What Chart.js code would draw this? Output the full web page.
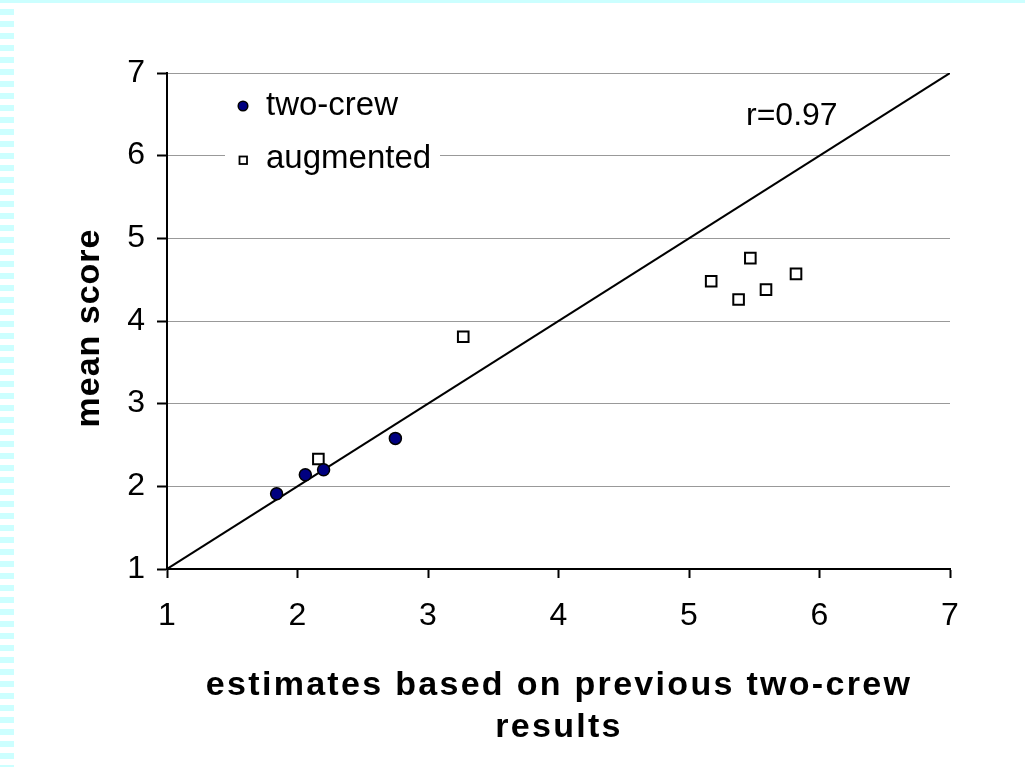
<!DOCTYPE html>
<html>
<head>
<meta charset="utf-8">
<title>mean score vs estimates</title>
<script src="https://cdn.jsdelivr.net/npm/chart.js@4/dist/chart.umd.min.js"></script>
<style>
  html, body { margin: 0; padding: 0; background: #ffffff; }
  #wrap { position: relative; width: 1025px; height: 767px; overflow: hidden; }
  #chart { position: absolute; left: 0; top: 0; }
  #topband { position: absolute; left: 0; top: 0; width: 1025px; height: 3px; background: #ccffff; }
  #sideband { position: absolute; left: 0; top: 3px; width: 14px; height: 764px;
    background: repeating-linear-gradient(to bottom, transparent 0px, transparent 6px, #ccffff 6px, #ccffff 12px); }
</style>
</head>
<body>
<div id="wrap">
  <canvas id="chart" width="1025" height="767"></canvas>
  <div id="topband"></div>
  <div id="sideband"></div>
</div>
<script>
// two-crew flights: estimate vs observed mean score
const twoCrewX = [1.84, 2.06, 2.20, 2.75];
const twoCrewY = [1.91, 2.14, 2.20, 2.58];
// augmented-crew flights
const augmentedX = [2.16, 3.27, 5.17, 5.38, 5.47, 5.59, 5.82];
const augmentedY = [2.33, 3.81, 4.48, 4.26, 4.76, 4.38, 4.57];
// identity reference line
const identityX = [1, 7];
const identityY = [1, 7];
// axis range and ticks
const axisMin = 1;
const axisMax = 7;
const tickStep = 1;
const correlationLabel = 'r=0.97';
const xTitleLines = ['estimates based on previous two-crew', 'results'];
const yTitle = 'mean score';
const seriesNames = ['two-crew', 'augmented'];

const FONT = "'Liberation Sans', Arial, sans-serif";

function toPoints(xs, ys) { return xs.map((x, i) => ({ x: x, y: ys[i] })); }

const overlay = {
  id: 'overlay',
  afterDraw(chart) {
    const ctx = chart.ctx;
    ctx.save();
    // legend box with white background
    ctx.fillStyle = '#ffffff';
    ctx.fillRect(225, 82, 215, 100);
    const ds0 = chart.data.datasets[0];
    const ds1 = chart.data.datasets[1];
    // circle marker
    ctx.beginPath();
    ctx.arc(243, 106, 4.8, 0, Math.PI * 2);
    ctx.fillStyle = ds0.backgroundColor;
    ctx.fill();
    ctx.lineWidth = 1.5;
    ctx.strokeStyle = ds0.borderColor;
    ctx.stroke();
    // square marker
    ctx.fillStyle = ds1.backgroundColor;
    ctx.fillRect(239.5, 156.5, 7.5, 7.5);
    ctx.lineWidth = 1.8;
    ctx.strokeStyle = ds1.borderColor;
    ctx.strokeRect(239.5, 156.5, 7.5, 7.5);
    // legend labels
    ctx.fillStyle = '#000000';
    ctx.font = '33px ' + FONT;
    ctx.textAlign = 'left';
    ctx.textBaseline = 'alphabetic';
    ctx.fillText(seriesNames[0], 266, 115);
    ctx.fillText(seriesNames[1], 266, 168);
    // correlation annotation
    ctx.font = '32px ' + FONT;
    ctx.fillText(correlationLabel, 746, 125);

    // x-axis title (two lines, bold, spaced)
    ctx.font = 'bold 34px ' + FONT;
    ctx.textAlign = 'center';
    if ('letterSpacing' in ctx) ctx.letterSpacing = '2.3px';
    ctx.fillText(xTitleLines[0], 559, 695);
    ctx.fillText(xTitleLines[1], 559, 737);
    // y-axis title (rotated)
    if ('letterSpacing' in ctx) ctx.letterSpacing = '1px';
    ctx.translate(99, 328);
    ctx.rotate(-Math.PI / 2);
    ctx.fillText(yTitle, 0, 0);
    ctx.restore();
  }
};

new Chart(document.getElementById('chart'), {
  type: 'scatter',
  data: {
    datasets: [
      {
        label: seriesNames[0],
        data: toPoints(twoCrewX, twoCrewY),
        pointStyle: 'circle',
        pointRadius: 6,
        backgroundColor: '#000080',
        borderColor: '#000000',
        borderWidth: 1.5,
        order: 1
      },
      {
        label: seriesNames[1],
        data: toPoints(augmentedX, augmentedY),
        pointStyle: 'rect',
        pointRadius: 7.5,
        backgroundColor: '#ffffff',
        borderColor: '#000000',
        borderWidth: 2,
        order: 1
      },
      {
        label: 'identity',
        type: 'line',
        data: toPoints(identityX, identityY),
        borderColor: '#000000',
        borderWidth: 2,
        pointRadius: 0,
        fill: false,
        order: 2
      }
    ]
  },
  options: {
    responsive: false,
    animation: false,
    devicePixelRatio: 1,
    layout: { padding: { top: 73, right: 75, left: 0, bottom: 0 } },
    plugins: { legend: { display: false }, tooltip: { enabled: false } },
    scales: {
      x: {
        type: 'linear',
        min: axisMin,
        max: axisMax,
        ticks: { stepSize: tickStep, color: '#000000', font: { family: FONT, size: 32 }, padding: 19 },
        grid: { drawOnChartArea: false, drawTicks: true, tickLength: 9, tickColor: '#000000', tickWidth: 2 },
        border: { display: true, color: '#000000', width: 2 },
        afterFit(scale) { scale.height = 198; }
      },
      y: {
        type: 'linear',
        min: axisMin,
        max: axisMax,
        ticks: { stepSize: tickStep, color: '#000000', font: { family: FONT, size: 32 }, padding: 12 },
        grid: { color: '#999999', lineWidth: 1, drawTicks: true, tickLength: 10, tickColor: '#000000', tickWidth: 2 },
        border: { display: true, color: '#000000', width: 2 },
        afterFit(scale) { scale.width = 167; }
      }
    }
  },
  plugins: [overlay]
});
</script>
</body>
</html>
